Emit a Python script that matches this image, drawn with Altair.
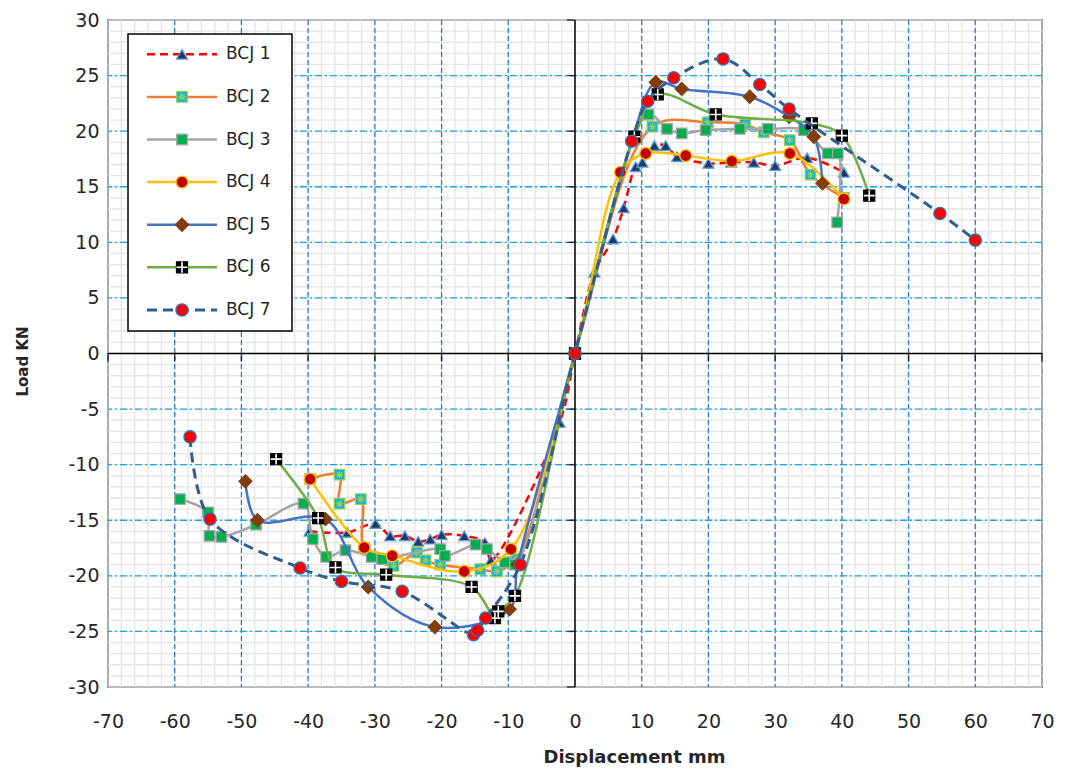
import altair as alt
import pandas as pd

SERIES = ["BCJ 1", "BCJ 2", "BCJ 3", "BCJ 4", "BCJ 5", "BCJ 6", "BCJ 7"]

BCJ1_X = [-39.8, -34.1, -29.9, -27.7, -25.5, -23.5, -21.7, -20.0, -16.6, -13.5, -12.6, -2.3, 0.0,
          2.9, 5.7, 7.3, 9.1, 10.1, 11.9, 13.6, 15.3, 20.0, 23.4, 26.8, 30.0, 34.8, 40.3]
BCJ1_Y = [-16.0, -16.1, -15.3, -16.4, -16.4, -16.9, -16.7, -16.3, -16.4, -17.0, -18.6, -6.2, 0.0,
          7.3, 10.3, 13.1, 16.8, 17.2, 18.7, 18.7, 17.7, 17.1, 17.2, 17.2, 16.9, 17.6, 16.3]

BCJ2_X = [-39.7, -35.3, -35.3, -32.1, -31.6, -27.2, -23.7, -22.4, -20.2, -14.2, -11.7, -8.8, 0.0,
          11.6, 19.9, 25.5, 28.3, 32.2, 35.3, 40.3]
BCJ2_Y = [-11.3, -10.9, -13.5, -13.1, -17.5, -19.1, -17.9, -18.6, -19.0, -19.4, -19.6, -18.5, 0.0,
          20.4, 20.8, 20.6, 19.9, 19.2, 16.1, 14.0]

BCJ3_X = [-59.2, -55.0, -54.8, -53.0, -47.8, -40.7, -39.3, -37.3, -34.4, -30.5, -28.9, -20.2, -19.5,
          -14.9, -13.2, -10.5, -9.0, 0.0, 11.0, 13.8, 16.0, 19.6, 24.7, 28.9, 34.3, 37.9, 39.4, 39.3]
BCJ3_Y = [-13.1, -14.3, -16.4, -16.5, -15.4, -13.5, -16.7, -18.3, -17.7, -18.3, -18.5, -17.6, -18.2,
          -17.2, -17.6, -18.8, -19.0, 0.0, 21.5, 20.2, 19.8, 20.1, 20.2, 20.2, 20.1, 18.0, 18.0, 11.8]

BCJ4_X = [-39.7, -31.6, -27.4, -16.6, -9.6, 0.0, 6.8, 10.6, 16.6, 23.5, 32.2, 40.3]
BCJ4_Y = [-11.3, -17.45, -18.2, -19.6, -17.6, 0.0, 16.3, 18.0, 17.8, 17.3, 18.0, 13.9]

BCJ5_X = [-49.4, -47.6, -37.4, -31.0, -21.0, -9.8, -8.6, 0.0, 8.6, 12.1, 16.0, 26.2, 32.1, 35.8, 37.1]
BCJ5_Y = [-11.5, -15.0, -14.9, -21.0, -24.6, -23.0, -19.0, 0.0, 19.2, 24.4, 23.8, 23.1, 21.3, 19.5, 15.3]

BCJ6_X = [-44.8, -38.5, -35.9, -28.3, -15.5, -12.0, -11.5, -9.0, 0.0, 8.9, 12.4, 21.1, 35.5, 40.0, 44.1]
BCJ6_Y = [-9.5, -14.8, -19.25, -19.9, -21.0, -23.8, -23.2, -21.8, 0.0, 19.5, 23.3, 21.5, 20.7, 19.6, 14.2]

BCJ7_X = [-57.7, -54.7, -41.2, -35.0, -25.9, -15.2, -14.6, -13.4, -8.2, 0.0,
          8.5, 10.9, 14.8, 22.2, 27.7, 32.1, 54.7, 60.0]
BCJ7_Y = [-7.5, -14.9, -19.3, -20.5, -21.4, -25.3, -24.9, -23.8, -19.0, 0.0,
          19.1, 22.7, 24.8, 26.5, 24.2, 22.0, 12.6, 10.2]

XS = [BCJ1_X, BCJ2_X, BCJ3_X, BCJ4_X, BCJ5_X, BCJ6_X, BCJ7_X]
YS = [BCJ1_Y, BCJ2_Y, BCJ3_Y, BCJ4_Y, BCJ5_Y, BCJ6_Y, BCJ7_Y]

X_TICKS = list(range(-70, 71, 10))
Y_TICKS = list(range(-30, 31, 5))

STYLE = {
    "BCJ 1": dict(line="#FF0000", dash=[8, 5], width=2.5, shape="triangle-up", fill="#1F3864", stroke="#5B9BD5", size=120),
    "BCJ 2": dict(line="#ED7D31", dash=None, width=2.5, shape="square", fill="#00B0F0", stroke="#92D050", size=110),
    "BCJ 3": dict(line="#A5A5A5", dash=None, width=2.5, shape="square", fill="#00B050", stroke="#A5A5A5", size=110),
    "BCJ 4": dict(line="#FFC000", dash=None, width=2.5, shape="circle", fill="#C00000", stroke="#FFC000", size=140),
    "BCJ 5": dict(line="#4472C4", dash=None, width=2.5, shape="diamond", fill="#843C0C", stroke="#843C0C", size=170),
    "BCJ 6": dict(line="#70AD47", dash=None, width=2.5, shape="square", fill="#000000", stroke="#000000", size=120),
    "BCJ 7": dict(line="#2E5F8F", dash=[10, 6], width=3, shape="circle", fill="#FF0000", stroke="#2E75B6", size=150),
}
OVERLAY = {
    "BCJ 2": dict(path="M-0.75,0L0.75,0M0,-0.75L0,0.75M-0.55,-0.55L0.55,0.55M-0.55,0.55L0.55,-0.55", color="#92D050", w=1.2),
    "BCJ 6": dict(path="M-1,0L1,0M0,-1L0,1", color="#FFFFFF", w=1.6),
}

FONT = "DejaVu Sans"
W, H = 934, 667
XSCALE = alt.Scale(domain=[-70, 70], nice=False, zero=False)
YSCALE = alt.Scale(domain=[-30, 30], nice=False, zero=False)
XAXIS = alt.Axis(values=X_TICKS, title="Displacement  mm", grid=False, ticks=False, domain=False,
                 labelPadding=25, labelFontSize=19, labelFont=FONT, labelColor="#262626",
                 labelExpr="'' + datum.value",
                 titleFont=FONT, titleFontSize=18, titleFontWeight="bold", titleColor="#262626",
                 titleX=526, titleY=70, titleBaseline="middle", labelFlush=False)
YAXIS = alt.Axis(values=Y_TICKS, title="Load KN", grid=False, ticks=False, domain=False,
                 labelPadding=9, labelFontSize=19, labelFont=FONT, labelColor="#262626",
                 labelExpr="'' + datum.value",
                 titleFont=FONT, titleFontSize=15, titleFontWeight="bold", titleColor="#262626",
                 titleX=-86, titleY=341, titleBaseline="middle", titleAlign="center", labelFlush=False)


def X(f):
    return alt.X(f, type="quantitative", scale=XSCALE, axis=XAXIS)


def Y(f):
    return alt.Y(f, type="quantitative", scale=YSCALE, axis=YAXIS)


layers = []

# grid lines
x_minor = pd.DataFrame({"v": list(range(-70, 71, 2))})
y_minor = pd.DataFrame({"v": list(range(-30, 31, 1))})
x_major = pd.DataFrame({"v": [t for t in X_TICKS if t not in (-70, 0, 70)]})
y_major = pd.DataFrame({"v": [t for t in Y_TICKS if t not in (-30, 0, 30)]})
layers.append(alt.Chart(x_minor).mark_rule(color="#E4E4E4", strokeWidth=1.3).encode(x=X("v")))
layers.append(alt.Chart(y_minor).mark_rule(color="#E4E4E4", strokeWidth=1.3).encode(y=Y("v")))
layers.append(alt.Chart(x_major).mark_rule(color="#2B7CD3", strokeWidth=1.3, strokeDash=[5, 3]).encode(x=X("v")))
layers.append(alt.Chart(y_major).mark_rule(color="#1AA6E6", strokeWidth=1.3, strokeDash=[7, 3, 2, 3]).encode(y=Y("v")))

# zero axes
zero = pd.DataFrame({"v": [0]})
layers.append(alt.Chart(zero).mark_rule(color="#000000", strokeWidth=1.5).encode(x=X("v")))
layers.append(alt.Chart(zero).mark_rule(color="#000000", strokeWidth=1.5).encode(y=Y("v")))
yt = pd.DataFrame({"v": Y_TICKS, "z": [0] * len(Y_TICKS)})
xt = pd.DataFrame({"v": X_TICKS, "z": [0] * len(X_TICKS)})
layers.append(alt.Chart(yt).mark_tick(orient="horizontal", color="#000000", size=8, thickness=1.5, xOffset=-4)
              .encode(x=X("z"), y=Y("v")))
layers.append(alt.Chart(xt).mark_tick(orient="vertical", color="#000000", size=8, thickness=1.5, yOffset=4)
              .encode(x=X("v"), y=Y("z")))

# series
for name, xs, ys in zip(SERIES, XS, YS):
    st = STYLE[name]
    df = pd.DataFrame({"disp": xs, "load": ys, "idx": list(range(len(xs)))})
    line_kw = dict(color=st["line"], strokeWidth=st["width"], interpolate="catmull-rom")
    if st["dash"]:
        line_kw["strokeDash"] = st["dash"]
    layers.append(alt.Chart(df).mark_line(**line_kw).encode(x=X("disp"), y=Y("load"), order="idx:Q"))
    layers.append(alt.Chart(df).mark_point(shape=st["shape"], filled=True, fill=st["fill"], stroke=st["stroke"],
                                           strokeWidth=1.3, size=st["size"], opacity=1)
                  .encode(x=X("disp"), y=Y("load")))
    if name in OVERLAY:
        ov = OVERLAY[name]
        layers.append(alt.Chart(df).mark_point(shape=ov["path"], filled=False, stroke=ov["color"],
                                               strokeWidth=ov["w"], size=st["size"], opacity=1)
                      .encode(x=X("disp"), y=Y("load")))

# legend
layers.append(alt.Chart(zero).mark_rect(fill="#FFFFFF", stroke="#000000", strokeWidth=1.5)
              .encode(x=alt.value(20), x2=alt.value(184), y=alt.value(14), y2=alt.value(311)))
for i, name in enumerate(SERIES):
    st = STYLE[name]
    ly = 34.3 + i * 42.6
    rule_kw = dict(color=st["line"], strokeWidth=st["width"])
    if st["dash"]:
        rule_kw["strokeDash"] = st["dash"]
    layers.append(alt.Chart(zero).mark_rule(**rule_kw)
                  .encode(x=alt.value(39), x2=alt.value(109), y=alt.value(ly)))
    layers.append(alt.Chart(zero).mark_point(shape=st["shape"], filled=True, fill=st["fill"], stroke=st["stroke"],
                                             strokeWidth=1.3, size=st["size"], opacity=1)
                  .encode(x=alt.value(74), y=alt.value(ly)))
    if name in OVERLAY:
        ov = OVERLAY[name]
        layers.append(alt.Chart(zero).mark_point(shape=ov["path"], filled=False, stroke=ov["color"],
                                                 strokeWidth=ov["w"], size=st["size"], opacity=1)
                      .encode(x=alt.value(74), y=alt.value(ly)))
    layers.append(alt.Chart(zero).mark_text(align="left", baseline="middle", font=FONT, fontSize=17,
                                            color="#262626")
                  .encode(x=alt.value(118), y=alt.value(ly), text=alt.value(name)))

chart = alt.layer(*layers).properties(
    width=W, height=H,
    padding={"left": 100, "top": 12, "right": 14, "bottom": 85},
    autosize="none",
    background="#FFFFFF",
).configure_view(stroke="#000000", strokeWidth=1.5)

chart.save("out.html", embed_options={"renderer": "svg", "actions": False})
